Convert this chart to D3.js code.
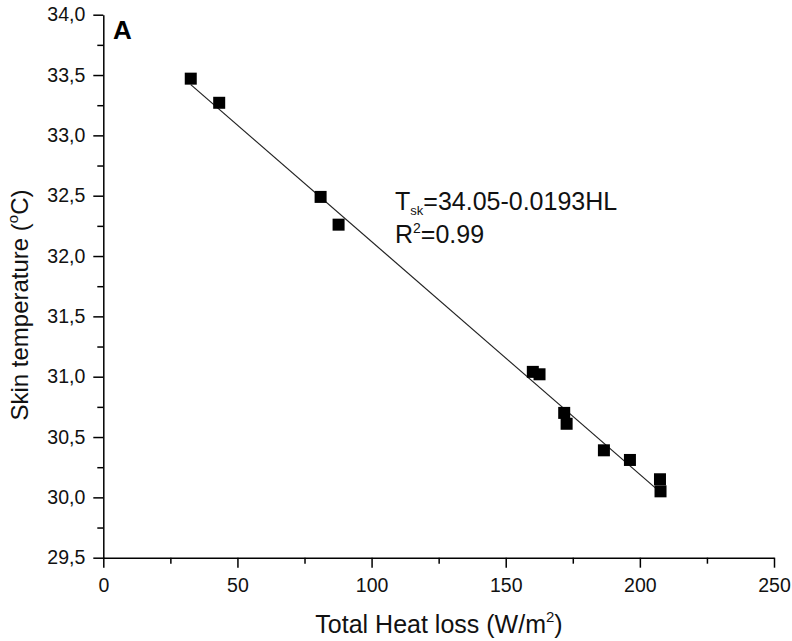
<!DOCTYPE html>
<html lang="en">
<head>
  <meta charset="UTF-8">
  <title>Skin temperature vs heat loss</title>
  <script src="https://cdnjs.cloudflare.com/ajax/libs/d3/7.8.5/d3.min.js"></script>
  <style>
    * { margin: 0; padding: 0; }
    html, body { background: #fff; }
    svg { display: block; font-family: "Liberation Sans", Arial, sans-serif; }
  </style>
</head>
<body>
  <div id="chart"></div>
<script>
  // values
  const heatLoss = [32.6, 43.2, 81.0, 87.7, 160.1, 162.6, 171.8, 172.7, 186.6, 196.3, 207.5, 207.7]
  const skinTemp = [33.47, 33.27, 32.49, 32.26, 31.04, 31.02, 30.70, 30.61, 30.39, 30.31, 30.15, 30.05]
  const xTicks = [0, 50, 100, 150, 200, 250]
  const yTicks = [29.5, 30.0, 30.5, 31.0, 31.5, 32.0, 32.5, 33.0, 33.5, 34.0]
  const fitIntercept = 34.05
  const fitSlope = -0.0193

  const W = 792, H = 641
  const margin = { top: 14.7, right: 18, bottom: 83.3, left: 103.3 }

  const svg = d3.select('#chart').append('svg')
    .attr('width', W)
    .attr('height', H)

  const x = d3.scaleLinear().domain([0, 250]).range([margin.left, W - margin.right])
  const y = d3.scaleLinear().domain([29.5, 34.0]).range([H - margin.bottom, margin.top])

  const fmtY = d => d3.format('.1f')(d).replace('.', ',')

  // minor ticks first, majors on top
  const xMinor = d3.range(25, 250, 50)
  const yMinor = d3.range(29.75, 34, 0.5)

  svg.append('g')
    .attr('transform', `translate(0,${y(29.5)})`)
    .call(d3.axisBottom(x).tickValues(xMinor).tickSize(6).tickSizeOuter(0).tickFormat(''))
    .call(g => g.select('.domain').remove())
  svg.append('g')
    .attr('transform', `translate(${x(0)},0)`)
    .call(d3.axisLeft(y).tickValues(yMinor).tickSize(6).tickSizeOuter(0).tickFormat(''))
    .call(g => g.select('.domain').remove())

  svg.append('g')
    .attr('transform', `translate(0,${y(29.5)})`)
    .call(d3.axisBottom(x).tickValues(xTicks).tickSize(10).tickSizeOuter(0).tickPadding(10))
  svg.append('g')
    .attr('transform', `translate(${x(0)},0)`)
    .call(d3.axisLeft(y).tickValues(yTicks).tickSize(10).tickSizeOuter(0).tickPadding(8).tickFormat(fmtY))

  svg.selectAll('.tick line').attr('stroke', '#000').attr('stroke-width', 1.5)
  svg.selectAll('.domain').attr('stroke', '#000').attr('stroke-width', 1.5)
  svg.selectAll('.tick text').attr('font-size', 19.5).attr('fill', '#111')
    .attr('font-family', '"Liberation Sans", Arial, sans-serif')

  // fit line over the data range
  const xr = d3.extent(heatLoss)
  svg.append('line')
    .attr('x1', x(xr[0])).attr('y1', y(fitIntercept + fitSlope * xr[0]))
    .attr('x2', x(xr[1])).attr('y2', y(fitIntercept + fitSlope * xr[1]))
    .attr('stroke', '#222')
    .attr('stroke-width', 1.2)

  const s = 12
  svg.selectAll('rect.pt').data(heatLoss).join('rect')
    .attr('class', 'pt')
    .attr('x', (d, i) => x(d) - s / 2)
    .attr('y', (d, i) => y(skinTemp[i]) - s / 2)
    .attr('width', s)
    .attr('height', s)
    .attr('fill', '#000')

  // panel letter
  svg.append('text')
    .attr('x', 113).attr('y', 39)
    .attr('font-size', 26).attr('font-weight', 'bold')
    .text('A')

  // equation
  const eq = svg.append('text').attr('x', 395).attr('y', 210).attr('font-size', 25).attr('fill', '#111')
  eq.append('tspan').text('T')
  eq.append('tspan').attr('font-size', 13).attr('dy', 5).text('sk')
  eq.append('tspan').attr('dy', -5).text('=34.05-0.0193HL')

  const r2 = svg.append('text').attr('x', 395).attr('y', 243).attr('font-size', 25).attr('fill', '#111')
  r2.append('tspan').text('R')
  r2.append('tspan').attr('font-size', 14).attr('dy', -10).text('2')
  r2.append('tspan').attr('dy', 10).text('=0.99')

  // axis titles
  const xt = svg.append('text')
    .attr('x', 439).attr('y', 633)
    .attr('text-anchor', 'middle')
    .attr('font-size', 25).attr('fill', '#111')
  xt.append('tspan').text('Total Heat loss (W/m')
  xt.append('tspan').attr('font-size', 15).attr('dy', -11).text('2')
  xt.append('tspan').attr('dy', 11).text(')')

  const yt = svg.append('text')
    .attr('transform', 'translate(28,305) rotate(-90)')
    .attr('text-anchor', 'middle')
    .attr('font-size', 24).attr('fill', '#111')
  yt.append('tspan').text('Skin temperature (')
  yt.append('tspan').attr('font-size', 15).attr('dy', -10).text('o')
  yt.append('tspan').attr('dy', 10).text('C)')
</script>
</body>
</html>
